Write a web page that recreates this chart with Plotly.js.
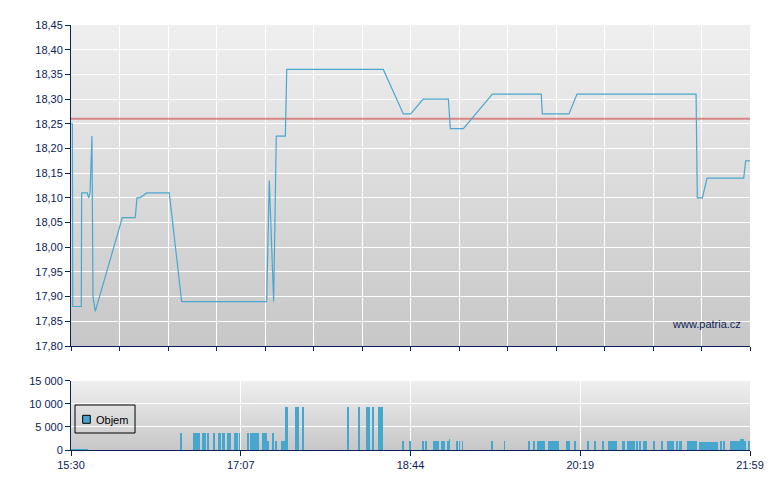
<!DOCTYPE html>
<html>
<head>
<meta charset="utf-8">
<script src="https://cdn.plot.ly/plotly-3.0.1.min.js"></script>
<style>html,body{margin:0;padding:0;background:#fff;}#chart{width:780px;height:490px;}</style>
</head>
<body>
<div id="chart"></div>
<script>
// ---- data (minutes after 15:30) ----
const sessionLength = 389; // 15:30 -> 21:59
const timeTickLabels = ['15:30', '17:07', '18:44', '20:19', '21:59'];

const priceMinutes = [0, 0.8, 1.0, 5.9, 6.1, 9.3, 10.1, 10.9, 12.0, 12.6, 13.9,
  29.4, 36.8, 37.8, 39.5, 43.4, 56.3, 63.4,
  112.1, 113.6, 116.1, 117.6, 122.8, 123.6, 178.9,
  190.4, 194.6, 201.8, 216.2, 217.3, 224.8, 241.4, 269.4,
  270.0, 285.3, 289.9, 358.1, 358.8, 361.7, 364.4, 385.4, 386.5, 389];
const prices = [18.25, 18.25, 17.88, 17.88, 18.11, 18.11, 18.10, 18.11, 18.225, 17.90, 17.87,
  18.06, 18.06, 18.10, 18.10, 18.11, 18.11, 17.89,
  17.89, 18.135, 17.89, 18.225, 18.225, 18.36, 18.36,
  18.27, 18.27, 18.30, 18.30, 18.24, 18.24, 18.31, 18.31,
  18.27, 18.27, 18.31, 18.31, 18.10, 18.10, 18.14, 18.14, 18.175, 18.175];
const prevClose = 18.26;

const volumeMinutes = [
  0.5, 1.5, 2.5, 3.5, 4.5, 5.5, 6.5, 7.5, 8.5, 9.5,
  62.9, 70.6, 71.6, 72.6, 73.6, 75.6, 76.6, 78.5, 81.9, 84.5, 85.5,
  87.0, 88.0, 90.0, 91.0, 93.9, 94.9, 96.6, 101.2,
  103.0, 104.0, 105.0, 106.0, 107.0, 109.9, 110.9, 111.9,
  113.0, 115.7, 117.6, 120.9, 121.9,
  122.9, 123.9, 129.0, 130.0, 132.9, 158.7, 164.8, 169.6, 170.6, 172.8, 176.4, 177.4, 178.4,
  190.0, 194.2, 201.5, 203.4, 208.1, 209.1, 210.1, 212.4, 213.5, 215.8,
  216.9,
  221.3, 222.6, 224.3, 241.0, 248.4, 262.2, 265.1,
  267.3, 268.3, 269.3, 270.3, 271.3,
  273.8, 274.8, 275.8, 276.8, 277.8, 278.8,
  284.2, 285.3, 288.9, 296.2, 300.0, 304.6,
  308.4, 309.4, 310.4, 311.4, 312.4,
  316.1, 317.1, 318.8, 319.8, 320.8, 321.8, 322.8,
  324.2, 326.1, 328.3, 329.3, 333.8, 338.6,
  342.0, 343.0, 344.0, 345.0, 347.0, 348.8, 349.8,
  353.3, 354.3, 355.3, 356.3, 357.3, 358.3,
  360.3, 361.3, 362.3, 363.3, 364.3, 365.3, 366.3, 367.3, 368.3, 369.3, 370.3,
  372.2, 373.9, 377.9, 378.9, 379.9, 380.9, 381.9, 382.9,
  383.9, 384.9, 386.0, 388.5];
const volumes = [
  300, 300, 300, 300, 300, 300, 300, 300, 300, 300,
  3700, 3700, 3700, 3700, 3700, 3700, 3700, 3700, 3700, 3700, 3700,
  3700, 3700, 3700, 3700, 3700, 3700, 3700, 3700,
  3700, 3700, 3700, 3700, 3700, 3700, 3700, 3700,
  2000, 3700, 2000, 2000, 2000,
  9300, 9300, 9300, 9300, 9300, 9300, 9300, 9300, 9300, 9300, 9300, 9300, 9300,
  1950, 1950, 1950, 1950, 1950, 1950, 1950, 1950, 1950, 1950,
  2400,
  1950, 1950, 1950, 1950, 1950, 1950, 1950,
  1950, 1950, 1950, 1950, 1950,
  1950, 1950, 1950, 1950, 1950, 1950,
  1950, 1950, 1950, 1950, 1950, 1950,
  1950, 1950, 1950, 1950, 1950,
  1950, 1950, 1950, 1950, 1950, 1950, 1950,
  1950, 1950, 1950, 1950, 1950, 1950,
  1950, 1950, 1950, 1950, 1950, 1950, 1950,
  1950, 1950, 1950, 1950, 1950, 1950,
  1750, 1750, 1750, 1750, 1750, 1750, 1750, 1750, 1750, 1750, 1750,
  1950, 1950, 1950, 1950, 1950, 1950, 1950, 1950,
  2400, 2400, 2000, 1950];
const volumeName = 'Objem';
const watermark = 'www.patria.cz';

// ---- styling ----
const navy = '#0c2357';
const baseFont = {family: 'Arial, "Liberation Sans", sans-serif', size: 11, color: navy};
const topBottom = 0.2447, volTop = 0.1624;

function ticksEvery(n) { const a = []; for (let i = 0; i <= n; i++) a.push(sessionLength * i / n); return a; }

const gradSvg = '<svg xmlns="http://www.w3.org/2000/svg" width="10" height="100" preserveAspectRatio="none">' +
  '<defs><linearGradient id="g" x1="0" y1="0" x2="0" y2="1"><stop offset="0" stop-color="#efefef"/>' +
  '<stop offset="1" stop-color="#c7c7c7"/></linearGradient></defs><rect width="10" height="100" fill="url(#g)"/></svg>';
const grad = 'data:image/svg+xml;charset=utf-8,' + encodeURIComponent(gradSvg);

const axisCommon = {
  showline: true, linecolor: navy, linewidth: 1, ticks: 'outside', tickcolor: navy, tickwidth: 1,
  showgrid: true, gridcolor: '#ffffff', gridwidth: 1, zeroline: false, fixedrange: true,
  tickfont: baseFont
};

const traces = [
  {type: 'scatter', mode: 'lines', x: [0, sessionLength], y: [prevClose, prevClose], xaxis: 'x', yaxis: 'y',
   line: {color: 'rgba(212,70,70,0.6)', width: 2}, hoverinfo: 'skip', showlegend: false},
  {type: 'scatter', mode: 'lines', x: priceMinutes, y: prices, xaxis: 'x', yaxis: 'y',
   line: {color: '#4aa7d0', width: 1.2}, hoverinfo: 'skip', showlegend: false},
  {type: 'bar', name: volumeName, x: volumeMinutes, y: volumes, xaxis: 'x2', yaxis: 'y2',
   width: 1, marker: {color: '#47a6cd', line: {width: 0}}, hoverinfo: 'skip', showlegend: false}
];

const layout = {
  width: 780, height: 490,
  margin: {l: 71, r: 30, t: 25, b: 40, pad: 0},
  paper_bgcolor: '#ffffff', plot_bgcolor: 'rgba(0,0,0,0)',
  separators: ', ',
  font: baseFont,
  showlegend: false,
  bargap: 0,
  xaxis: Object.assign({}, axisCommon, {domain: [0, 1], anchor: 'y', range: [0, sessionLength],
    tickmode: 'array', tickvals: ticksEvery(14), showticklabels: false, ticklen: 4}),
  yaxis: Object.assign({}, axisCommon, {domain: [topBottom, 1], anchor: 'x', range: [17.80, 18.45],
    tick0: 17.80, dtick: 0.05, tickformat: '.2f', ticklen: 5}),
  xaxis2: Object.assign({}, axisCommon, {domain: [0, 1], anchor: 'y2', range: [0, sessionLength],
    tickmode: 'array', tickvals: ticksEvery(4), ticktext: timeTickLabels, ticklen: 5}),
  yaxis2: Object.assign({}, axisCommon, {domain: [0, volTop], anchor: 'x2', range: [0, 15000],
    tick0: 0, dtick: 5000, tickformat: ',d', ticklen: 5}),
  images: [
    {source: grad, xref: 'paper', yref: 'paper', x: 0, y: 1, sizex: 1, sizey: 1 - topBottom,
     xanchor: 'left', yanchor: 'top', sizing: 'stretch', layer: 'below'},
    {source: grad, xref: 'paper', yref: 'paper', x: 0, y: volTop, sizex: 1, sizey: volTop,
     xanchor: 'left', yanchor: 'top', sizing: 'stretch', layer: 'below'}
  ],
  shapes: [
    // volume legend box and swatch
    {type: 'rect', xref: 'paper', yref: 'paper', x0: 0.0059, x1: 0.0943, y0: 0.040, y1: 0.1059,
     line: {color: '#000000', width: 1}, fillcolor: 'rgba(0,0,0,0)'},
    {type: 'rect', xref: 'paper', yref: 'paper', x0: 0.0172, x1: 0.0284, y0: 0.0628, y1: 0.0816,
     line: {color: '#000000', width: 1}, fillcolor: '#47a6cd'}
  ],
  annotations: [
    {text: volumeName, xref: 'paper', yref: 'paper', x: 0.0334, y: 0.0705, xanchor: 'left', yanchor: 'middle',
     showarrow: false, font: {family: baseFont.family, size: 11, color: '#000000'}},
    {text: watermark, xref: 'paper', yref: 'paper', x: 0.989, y: 0.2965, xanchor: 'right', yanchor: 'middle',
     showarrow: false, font: baseFont}
  ]
};

Plotly.newPlot('chart', traces, layout, {displayModeBar: false, staticPlot: true});
</script>
</body>
</html>
